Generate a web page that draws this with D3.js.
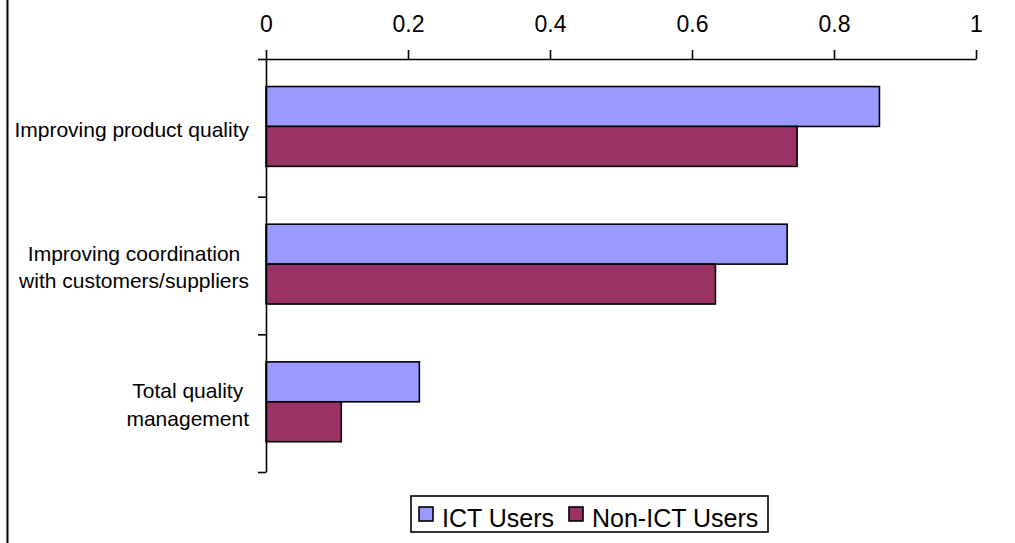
<!DOCTYPE html>
<html>
<head>
<meta charset="utf-8">
<script src="https://cdn.jsdelivr.net/npm/d3@7"></script>
<style>
  html, body { margin: 0; padding: 0; background: #fff; }
  svg { display: block; font-family: "Liberation Sans", Arial, sans-serif; }
</style>
</head>
<body>
<svg id="chart" width="1015" height="543"></svg>
<script>
// Categories (top to bottom) and the share of firms in each group
const categories = [
  "Improving product quality",
  "Improving coordination\nwith customers/suppliers",
  "Total quality\nmanagement"
];
const seriesNames = ["ICT Users", "Non-ICT Users"];
const ictUsers = [0.864, 0.734, 0.216];
const nonIctUsers = [0.748, 0.633, 0.106];
const xTicks = [0, 0.2, 0.4, 0.6, 0.8, 1];
const colors = ["#9999FF", "#993366"];

const svg = d3.select("#chart");

// frame edge on the left
svg.append("line")
  .attr("x1", 7.5).attr("x2", 7.5).attr("y1", 0).attr("y2", 543)
  .attr("stroke", "#000").attr("stroke-width", 2);

const plot = { left: 266, right: 976, top: 59, bottom: 472 };

const x = d3.scaleLinear().domain([0, 1]).range([plot.left, plot.right]);
const y = d3.scaleBand().domain(categories).range([plot.top, plot.bottom]).padding(0);
const yEdges = d3.scaleLinear().domain([0, categories.length]).range([plot.top, plot.bottom]);

// bars
const bw = y.bandwidth();
const barH = bw * 0.29;
const barOffset = bw * 0.2;
const series = [ictUsers, nonIctUsers];

series.forEach((vals, si) => {
  svg.append("g").selectAll("rect")
    .data(categories.map((c, i) => ({ c, v: vals[i] })))
    .join("rect")
    .attr("x", x(0))
    .attr("y", d => y(d.c) + barOffset + si * barH)
    .attr("width", d => x(d.v) - x(0))
    .attr("height", barH)
    .attr("fill", colors[si])
    .attr("stroke", "#000")
    .attr("stroke-width", 1.6);
});

// top value axis
const xAxis = svg.append("g")
  .attr("transform", `translate(0,${plot.top})`)
  .call(d3.axisTop(x).tickValues(xTicks).tickFormat(d3.format("")).tickSize(9).tickSizeOuter(0).tickPadding(18));
xAxis.select(".domain").attr("stroke", "#000").attr("stroke-width", 1.6);
xAxis.selectAll(".tick line").attr("stroke", "#000").attr("stroke-width", 1.6);
xAxis.selectAll(".tick text")
  .attr("font-size", 23).attr("fill", "#000")
  .attr("font-family", "Liberation Sans, Arial, sans-serif")
  .attr("dy", "0em");

// category axis: ticks on band edges
const yAxis = svg.append("g")
  .attr("transform", `translate(${plot.left},0)`)
  .call(d3.axisLeft(yEdges).tickValues(d3.range(categories.length + 1)).tickFormat("").tickSize(8).tickSizeOuter(0));
yAxis.select(".domain").attr("stroke", "#000").attr("stroke-width", 1.6);
yAxis.selectAll(".tick line").attr("stroke", "#000").attr("stroke-width", 1.6);

// category labels, each block centred and right-aligned to the axis gap
const labelRight = 249;
const lineH = 27.5;
categories.forEach(c => {
  const lines = c.split("\n");
  const g = svg.append("g");
  const cy = y(c) + bw / 2;
  const texts = lines.map((ln, i) => g.append("text")
    .attr("font-size", 21)
    .attr("fill", "#000")
    .attr("text-anchor", "middle")
    .attr("y", cy - (lines.length - 1) * lineH / 2 + i * lineH + 9)
    .text(ln));
  const maxW = d3.max(texts, t => t.node().getComputedTextLength());
  texts.forEach(t => t.attr("x", labelRight - maxW / 2));
});

// legend
const legend = svg.append("g");
legend.append("rect")
  .attr("x", 411).attr("y", 496).attr("width", 357).attr("height", 36)
  .attr("fill", "#fff").attr("stroke", "#000").attr("stroke-width", 1.6);
const legendX = [419, 569];
seriesNames.forEach((name, i) => {
  legend.append("rect")
    .attr("x", legendX[i]).attr("y", 507).attr("width", 14).attr("height", 14)
    .attr("fill", colors[i]).attr("stroke", "#000").attr("stroke-width", 1.6);
  legend.append("text")
    .attr("x", legendX[i] + 23).attr("y", 527)
    .attr("font-size", 25).attr("fill", "#000")
    .text(name);
});
</script>
</body>
</html>
